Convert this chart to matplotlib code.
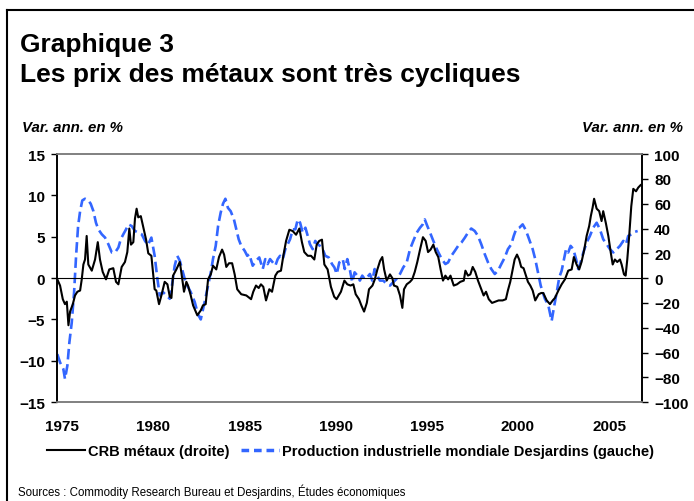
import matplotlib
matplotlib.use("Agg")
import matplotlib.pyplot as plt
from matplotlib.lines import Line2D

plt.rcParams["font.family"] = ["Liberation Sans", "DejaVu Sans"]

# CRB métaux, var. ann. en % (échelle de droite)
crb_years = [
    1974.73, 1974.88, 1975.03, 1975.15, 1975.25, 1975.34, 1975.43, 1975.58, 1975.70, 1975.83,
    1975.98, 1976.07, 1976.16, 1976.25, 1976.34, 1976.43, 1976.62, 1976.80, 1976.95, 1977.07,
    1977.22, 1977.40, 1977.58, 1977.80, 1977.95, 1978.08, 1978.26, 1978.44, 1978.57, 1978.68,
    1978.77, 1978.90, 1978.99, 1979.08, 1979.17, 1979.31, 1979.45, 1979.60, 1979.72, 1979.89,
    1980.07, 1980.16, 1980.31, 1980.44, 1980.62, 1980.77, 1980.90, 1980.99, 1981.08, 1981.26,
    1981.45, 1981.53, 1981.68, 1981.81, 1981.90, 1982.05, 1982.18, 1982.41, 1982.60, 1982.72,
    1982.87, 1983.00, 1983.15, 1983.27, 1983.45, 1983.60, 1983.77, 1983.88, 1984.00, 1984.15,
    1984.32, 1984.46, 1984.60, 1984.82, 1985.10, 1985.36, 1985.48, 1985.63, 1985.78, 1985.90,
    1986.03, 1986.18, 1986.36, 1986.51, 1986.69, 1986.82, 1987.00, 1987.13, 1987.28, 1987.46,
    1987.64, 1987.83, 1988.01, 1988.15, 1988.28, 1988.47, 1988.65, 1988.83, 1988.96, 1989.10,
    1989.25, 1989.38, 1989.56, 1989.74, 1989.92, 1990.05, 1990.29, 1990.48, 1990.64, 1990.82,
    1990.97, 1991.10, 1991.28, 1991.41, 1991.56, 1991.71, 1991.83, 1992.02, 1992.15, 1992.29,
    1992.44, 1992.56, 1992.66, 1992.80, 1992.98, 1993.11, 1993.20, 1993.38, 1993.53, 1993.66,
    1993.75, 1993.90, 1994.08, 1994.20, 1994.34, 1994.48, 1994.63, 1994.79, 1994.94, 1995.07,
    1995.21, 1995.36, 1995.49, 1995.63, 1995.76, 1995.89, 1996.02, 1996.17, 1996.30, 1996.48,
    1996.66, 1996.84, 1997.03, 1997.12, 1997.26, 1997.39, 1997.52, 1997.66, 1997.81, 1997.99,
    1998.12, 1998.25, 1998.40, 1998.58, 1998.76, 1998.94, 1999.16, 1999.34, 1999.45, 1999.58,
    1999.71, 1999.82, 1999.95, 2000.07, 2000.18, 2000.31, 2000.44, 2000.55, 2000.68, 2000.81,
    2000.95, 2001.14, 2001.28, 2001.39, 2001.58, 2001.76, 2001.91, 2002.03, 2002.22, 2002.40,
    2002.58, 2002.76, 2002.95, 2003.07, 2003.22, 2003.36, 2003.49, 2003.64, 2003.77, 2003.91,
    2004.00, 2004.10, 2004.18, 2004.32, 2004.46, 2004.59, 2004.68, 2004.83, 2004.96, 2005.09,
    2005.20, 2005.32, 2005.45, 2005.60, 2005.69, 2005.82, 2005.91, 2006.00, 2006.11, 2006.22,
    2006.33, 2006.48, 2006.60, 2006.73,
]
crb_values = [
    -1, -6, -17, -21, -19, -38, -27, -21, -14, -11,
    -10, -1, 11, 15, 34, 11, 6, 15, 29, 15,
    5, -1, 7, 8, -3, -5, 9, 13, 21, 40,
    27, 29, 48, 56, 49, 50, 41, 31, 20, 18,
    -9, -10, -21, -14, -3, -5, -15, -16, 2, 7,
    13, 5, -11, -3, -6, -14, -22, -30, -26, -22,
    -21, -1, 3, 10, 7, 17, 23, 19, 9, 12,
    12, 3, -9, -13, -14, -17, -11, -6, -8, -5,
    -7, -18, -9, -11, 2, 5, 6, 18, 30, 39,
    38, 35, 40, 29, 21, 18, 18, 15, 27, 30,
    31, 11, 7, -7, -15, -17, -11, -2, -5, -6,
    -5, -13, -17, -22, -27, -20, -9, -6, -1, 7,
    14, 17, 7, -2, 3, 0, -6, -7, -14, -24,
    -9, -5, -3, -1, 5, 13, 23, 33, 30, 21,
    23, 27, 21, 17, 7, -2, 2, -1, 2, -6,
    -5, -3, -2, 6, 2, 3, 9, 5, -2, -9,
    -14, -11, -17, -20, -19, -18, -18, -17, -10, -3,
    7, 15, 19, 15, 9, 8, 2, -3, -6, -10,
    -18, -13, -12, -12, -18, -21, -18, -16, -10, -5,
    -1, 6, 7, 17, 11, 7, 13, 23, 34, 42,
    50, 57, 64, 56, 54, 46, 54, 44, 34, 21,
    11, 15, 13, 15, 11, 3, 2, 15, 35, 58,
    72, 70, 73, 75,
]

# Production industrielle mondiale Desjardins, var. ann. en % (échelle de gauche)
prod_years = [
    1974.73, 1974.88, 1975.06, 1975.15, 1975.28, 1975.39, 1975.52, 1975.65, 1975.76, 1975.87,
    1975.98, 1976.10, 1976.25, 1976.43, 1976.56, 1976.71, 1976.85, 1976.98, 1977.17, 1977.35,
    1977.53, 1977.72, 1977.90, 1978.08, 1978.21, 1978.35, 1978.50, 1978.63, 1978.81, 1978.99,
    1979.17, 1979.36, 1979.54, 1979.70, 1979.89, 1980.07, 1980.22, 1980.35, 1980.53, 1980.71,
    1980.90, 1981.02, 1981.17, 1981.31, 1981.45, 1981.57, 1981.72, 1981.86, 1982.05, 1982.27,
    1982.45, 1982.60, 1982.72, 1982.85, 1983.00, 1983.15, 1983.27, 1983.42, 1983.55, 1983.69,
    1983.82, 1983.95, 1984.09, 1984.24, 1984.42, 1984.55, 1984.68, 1984.82, 1985.01, 1985.15,
    1985.26, 1985.45, 1985.63, 1985.81, 1986.00, 1986.14, 1986.27, 1986.40, 1986.55, 1986.69,
    1986.82, 1986.95, 1987.10, 1987.24, 1987.37, 1987.50, 1987.65, 1987.79, 1987.92, 1988.05,
    1988.19, 1988.34, 1988.47, 1988.59, 1988.74, 1988.88, 1989.02, 1989.14, 1989.29, 1989.43,
    1989.62, 1989.80, 1989.93, 1990.06, 1990.20, 1990.39, 1990.50, 1990.64, 1990.79, 1990.91,
    1991.04, 1991.19, 1991.33, 1991.46, 1991.59, 1991.73, 1991.88, 1992.01, 1992.14, 1992.28,
    1992.43, 1992.61, 1992.80, 1992.98, 1993.16, 1993.34, 1993.53, 1993.71, 1993.90, 1994.08,
    1994.26, 1994.45, 1994.63, 1994.78, 1994.89, 1995.03, 1995.18, 1995.36, 1995.55, 1995.73,
    1995.89, 1996.02, 1996.17, 1996.35, 1996.54, 1996.72, 1996.90, 1997.09, 1997.26, 1997.44,
    1997.63, 1997.81, 1997.99, 1998.18, 1998.36, 1998.54, 1998.73, 1998.91, 1999.09, 1999.28,
    1999.45, 1999.64, 1999.77, 1999.90, 2000.08, 2000.26, 2000.41, 2000.55, 2000.68, 2000.81,
    2000.95, 2001.10, 2001.25, 2001.36, 2001.48, 2001.67, 2001.85, 2001.98, 2002.13, 2002.27,
    2002.40, 2002.53, 2002.64, 2002.76, 2002.89, 2003.04, 2003.19, 2003.31, 2003.44, 2003.59,
    2003.77, 2003.95, 2004.13, 2004.32, 2004.50, 2004.68, 2004.87, 2005.05, 2005.23, 2005.42,
    2005.60, 2005.78, 2005.93, 2006.05, 2006.24, 2006.42, 2006.57,
]
prod_values = [
    -9.2, -10.2, -11.0, -12.2, -10.6, -7.8, -5.4, -1.7, 2.7, 6.3,
    8.1, 9.4, 9.6, 9.4, 9.0, 8.1, 6.7, 5.9, 5.3, 4.9,
    4.1, 3.1, 3.1, 3.7, 4.7, 5.3, 5.9, 6.5, 6.3, 5.7,
    5.5, 5.3, 4.5, 4.0, 4.9, 2.7, -0.1, -2.1, -1.7, -2.1,
    -2.5, -0.9, 1.5, 2.7, 2.1, 1.1, -0.1, -0.9, -1.7, -2.9,
    -4.4, -5.0, -3.8, -2.5, -0.9, 0.7, 2.3, 3.9, 6.3, 7.9,
    9.0, 9.6, 8.5, 8.1, 7.1, 5.9, 4.7, 3.9, 3.3, 2.7,
    2.9, 1.5, 2.1, 2.5, 1.1, 2.3, 1.7, 2.3, 1.9, 1.5,
    2.3, 2.7, 2.3, 3.5, 4.1, 4.7, 5.9, 5.9, 7.1, 6.7,
    5.5, 6.1, 5.1, 4.1, 3.5, 4.5, 4.1, 3.9, 3.5, 2.7,
    2.5, 1.7, 1.3, 0.5, 1.9, 2.3, 1.1, 2.3, 0.9, -0.5,
    0.7, 0.3, -0.3, 0.3, -0.1, 0.1, 0.5, -0.3, 1.1, 0.3,
    -0.3, -0.3, -0.7, -0.9, -0.5, -0.1, 0.5, 1.3, 1.9, 3.5,
    4.5, 5.5, 6.1, 6.5, 7.1, 6.3, 5.5, 4.5, 3.5, 2.7,
    2.1, 1.7, 1.9, 2.7, 3.3, 3.9, 4.3, 4.9, 5.5, 6.0,
    5.7, 5.1, 4.1, 2.9, 1.9, 1.1, 0.5, 0.9, 1.7, 2.5,
    3.5, 4.1, 5.1, 5.9, 6.1, 6.5, 5.9, 5.1, 4.3, 3.5,
    2.3, 0.7, -0.9, -1.7, -2.5, -3.3, -5.2, -3.5, -1.7, 0.1,
    0.9, 2.3, 3.5, 3.1, 3.9, 3.5, 2.3, 1.1, 1.9, 3.1,
    4.3, 5.1, 6.1, 6.7, 5.9, 4.7, 4.1, 3.5, 3.1, 3.5,
    3.9, 4.5, 4.1, 5.1, 5.3, 5.6, 5.7,
]

year_ticks = [1975, 1980, 1985, 1990, 1995, 2000, 2005]
left_ticks = [-15, -10, -5, 0, 5, 10, 15]
right_ticks = [-100, -80, -60, -40, -20, 0, 20, 40, 60, 80, 100]

BLUE = "#3366FF"
GREY = "#808080"

fig = plt.figure(figsize=(6.94, 5.02), dpi=100)
ax = fig.add_axes([0.0826, 0.197, 0.842, 0.494])
ax2 = ax.twinx()

ax.plot(prod_years, prod_values, color=BLUE, lw=1.9, ls=(0, (4, 1.8)))
ax2.plot(crb_years, crb_values, color="black", lw=1.5)
ax.axhline(0, color="black", lw=0.8)

ax.set_xlim(1974.73, 2006.79)
ax.set_ylim(-15, 15)
ax2.set_ylim(-100, 100)
ax.set_xticks(year_ticks)
ax.set_yticks(left_ticks)
ax2.set_yticks(right_ticks)

for a in (ax, ax2):
    a.spines["top"].set_color(GREY)
    a.spines["bottom"].set_color(GREY)
    a.spines["top"].set_linewidth(1.2)
    a.spines["bottom"].set_linewidth(1.2)
    a.spines["left"].set_linewidth(1.2)
    a.spines["right"].set_linewidth(1.2)

ax.tick_params(axis="x", length=0, pad=12, labelsize=11)
ax.tick_params(axis="y", direction="out", length=4, width=1, pad=5, labelsize=11)
ax2.tick_params(axis="y", direction="out", length=4, width=1, pad=5, labelsize=11)
for lab in ax.get_xticklabels() + ax.get_yticklabels() + ax2.get_yticklabels():
    lab.set_fontweight("bold")

# titres et textes
fig.text(0.029, 0.896, "Graphique 3", fontsize=19, fontweight="bold", va="baseline")
fig.text(0.029, 0.837, "Les prix des métaux sont très cycliques", fontsize=19,
         fontweight="bold", va="baseline")
fig.text(0.032, 0.745, "Var. ann. en %", fontsize=10.8, fontweight="bold", style="italic",
         va="center")
fig.text(0.984, 0.745, "Var. ann. en %", fontsize=10.8, fontweight="bold", style="italic",
         va="center", ha="right")
fig.text(0.026, 0.02, "Sources : Commodity Research Bureau et Desjardins, Études économiques",
         fontsize=8.3, va="center")

handles = [
    Line2D([], [], color="black", lw=1.5),
    Line2D([], [], color=BLUE, lw=2.5, ls=(0, (2.2, 1.4))),
]
fig.legend(handles, ["CRB métaux (droite)", "Production industrielle mondiale Desjardins (gauche)"],
           loc="center", bbox_to_anchor=(0.505, 0.1), ncol=2, frameon=False,
           prop={"weight": "bold", "size": 10.5}, handlelength=2.6, handletextpad=0.2,
           columnspacing=0.8)

# cadre
fig.add_artist(Line2D([0.01, 0.01], [0.0, 0.978], color="black", lw=1.5,
                      transform=fig.transFigure))
fig.add_artist(Line2D([0.01, 1.0], [0.978, 0.978], color="black", lw=1.5,
                      transform=fig.transFigure))

fig.savefig("out.png", dpi=100)
